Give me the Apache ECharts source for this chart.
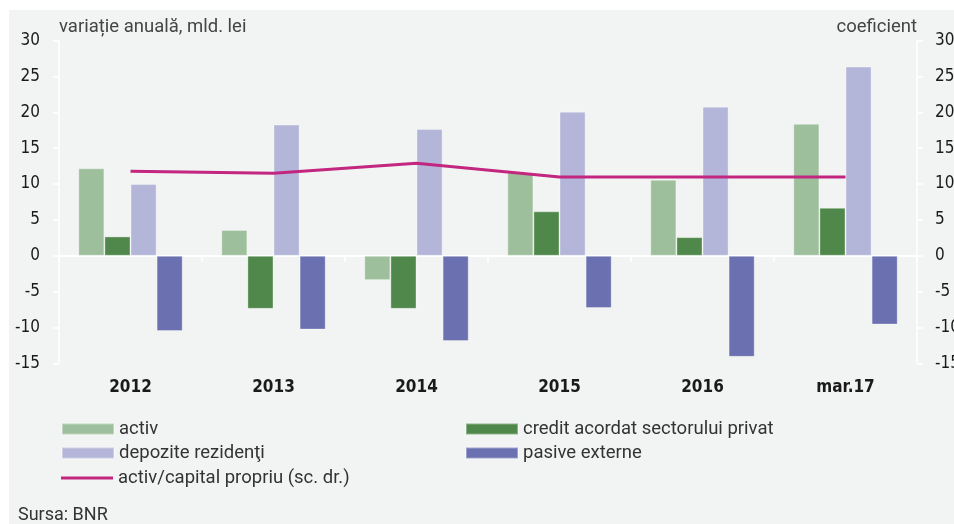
<!DOCTYPE html>
<html>
<head>
<meta charset="utf-8">
<script src="https://cdn.jsdelivr.net/npm/echarts@6/dist/echarts.min.js"></script>
<style>
    html, body { margin: 0; padding: 0; background: #ffffff; }
    #chart { width: 954px; height: 524px; }
</style>
</head>
<body>
<div id="chart"></div>
<script>
// date
var categories = ['2012', '2013', '2014', '2015', '2016', 'mar.17'];
var activ = [12.2, 3.6, -3.4, 11.6, 10.6, 18.4];
var credit = [2.7, -7.4, -7.4, 6.2, 2.6, 6.7];
var depozite = [10.0, 18.3, 17.7, 20.1, 20.8, 26.4];
var pasive = [-10.5, -10.3, -11.9, -7.3, -14.1, -9.6];
var coeficient = [11.8, 11.5, 12.9, 11.0, 11.0, 11.0];
var yTicks = { min: -15, max: 30, interval: 5 };

var tickFont = "'Liberation Sans Narrow', 'DejaVu Sans Condensed', sans-serif";
var textFont = "Roboto, 'Noto Sans', sans-serif";

var myChart = echarts.init(document.getElementById('chart'));

function barSeries(name, data, color) {
    return {
        name: name,
        type: 'bar',
        data: data,
        barGap: 0,
        barCategoryGap: '27%',
        itemStyle: { color: color, borderColor: 'rgba(255,255,255,0.35)', borderWidth: 1 }
    };
}

function legendAt(name, left, top, icon, h) {
    return {
        data: [name],
        left: left,
        top: top,
        padding: 0,
        icon: icon,
        itemWidth: 52,
        itemHeight: h,
        itemGap: 5,
        selectedMode: false,
        textStyle: { fontFamily: textFont, fontSize: 18.5, color: '#333', lineHeight: 20 }
    };
}

function valueAxis(pos, margin, name, align) {
    return {
        type: 'value',
        position: pos,
        min: yTicks.min,
        max: yTicks.max,
        interval: yTicks.interval,
        name: name,
        nameLocation: 'end',
        nameGap: 13,
        nameTextStyle: { fontFamily: textFont, fontSize: 18.5, color: '#444', align: align, verticalAlign: 'middle' },
        axisLine: { show: true, lineStyle: { color: '#ffffff', width: 1.5 } },
        axisTick: { show: true, length: 6, lineStyle: { color: '#ffffff', width: 1.5 } },
        axisLabel: { fontFamily: tickFont, fontSize: 17, color: '#1a1a1a', margin: margin },
        splitLine: { show: false }
    };
}

var option = {
    animation: false,
    graphic: [
        { type: 'rect', left: 9, top: 10, z: -10, shape: { width: 945, height: 514 }, style: { fill: '#f2f4f3' } },
        { type: 'text', left: 18, top: 506, style: { text: 'Sursa: BNR', font: '18px ' + textFont, fill: '#333' } }
    ],
    grid: { left: 59, right: 37, top: 40.7, bottom: 160.7, containLabel: false, outerBoundsMode: 'none' },
    legend: [
        legendAt('activ', 61, 419, 'rect', 11),
        legendAt('credit acordat sectorului privat', 465, 419, 'rect', 11),
        legendAt('depozite rezidenţi', 61, 443, 'rect', 11),
        legendAt('pasive externe', 465, 443, 'rect', 11),
        legendAt('activ/capital propriu (sc. dr.)', 61, 468, 'rect', 3)
    ],
    xAxis: [
        {
            type: 'category',
            data: categories,
            position: 'bottom',
            axisLine: { show: false, onZero: false },
            axisTick: { show: false },
            axisLabel: { fontFamily: tickFont, fontSize: 17, fontWeight: 'bold', color: '#1a1a1a', margin: 16 }
        },
        {
            type: 'category',
            data: categories,
            position: 'top',
            axisLine: { show: true, onZero: true, lineStyle: { color: '#ffffff', width: 2 } },
            axisTick: { show: true, inside: true, length: 6, lineStyle: { color: '#ffffff', width: 1.5 } },
            axisLabel: { show: false }
        }
    ],
    yAxis: [
        valueAxis('left', 19, 'variație anuală, mld. lei', 'left'),
        valueAxis('right', 18, 'coeficient', 'right')
    ],
    series: [
        barSeries('activ', activ, '#9dbf9b'),
        barSeries('credit acordat sectorului privat', credit, '#4f884a'),
        barSeries('depozite rezidenţi', depozite, '#b3b6d8'),
        barSeries('pasive externe', pasive, '#6b70b0'),
        {
            name: 'activ/capital propriu (sc. dr.)',
            type: 'line',
            yAxisIndex: 1,
            data: coeficient,
            symbol: 'none',
            itemStyle: { color: '#c2267f' },
            lineStyle: { color: '#c2267f', width: 3 },
            z: 5
        }
    ]
};

myChart.setOption(option);
</script>
</body>
</html>
